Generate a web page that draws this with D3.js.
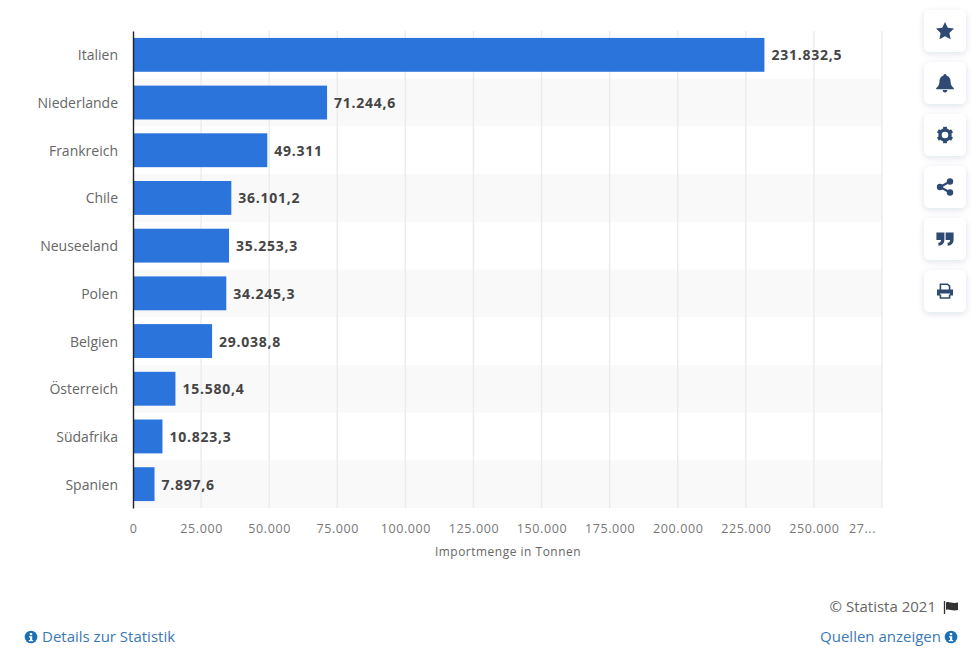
<!DOCTYPE html>
<html>
<head>
<meta charset="utf-8">
<script src="https://cdn.jsdelivr.net/npm/d3@7"></script>
<style>
  html, body { margin: 0; background: #fff; }
  text { font-family: "Open Sans", sans-serif; }
</style>
</head>
<body>
<div id="chart"></div>
<script>
const countries = ['Italien', 'Niederlande', 'Frankreich', 'Chile', 'Neuseeland', 'Polen', 'Belgien', 'Österreich', 'Südafrika', 'Spanien'];
const imports = [231832.5, 71244.6, 49311, 36101.2, 35253.3, 34245.3, 29038.8, 15580.4, 10823.3, 7897.6];
const xTicks = [0, 25000, 50000, 75000, 100000, 125000, 150000, 175000, 200000, 225000, 250000, 275000];

const width = 978;
const height = 654;
const margin = { top: 31, right: 96, bottom: 146, left: 133 };

const de = d3.formatLocale({ decimal: ',', thousands: '.', grouping: [3], currency: ['', ' €'] });
const fmtValue = de.format(',.1~f');
const fmtTick = de.format(',');

const svg = d3.select('#chart')
  .append('svg')
  .attr('width', width)
  .attr('height', height)
  .style('display', 'block');

const defs = svg.append('defs');
const shadow = defs.append('filter').attr('id', 'cardShadow')
  .attr('x', '-30%').attr('y', '-30%').attr('width', '160%').attr('height', '170%');
shadow.append('feDropShadow')
  .attr('dx', 0).attr('dy', 2).attr('stdDeviation', 3)
  .attr('flood-color', '#1f3a5f').attr('flood-opacity', 0.13);

const x = d3.scaleLinear()
  .domain([0, 275000])
  .range([margin.left, width - margin.right]);
const y = d3.scaleBand()
  .domain(countries)
  .range([margin.top, height - margin.bottom])
  .paddingInner(0.29)
  .paddingOuter(0.145);
const rows = d3.scaleBand()
  .domain(countries)
  .range([margin.top, height - margin.bottom]);

// alternating row stripes
svg.append('g')
  .selectAll('rect')
  .data(countries.filter((d, i) => i % 2 === 1))
  .join('rect')
  .attr('x', margin.left)
  .attr('y', d => rows(d))
  .attr('width', x(275000) - margin.left)
  .attr('height', rows.bandwidth())
  .attr('fill', '#f9f9fa');

// grid
svg.append('g')
  .selectAll('line')
  .data(xTicks.slice(1))
  .join('line')
  .attr('x1', d => x(d))
  .attr('x2', d => x(d))
  .attr('y1', margin.top)
  .attr('y2', height - margin.bottom)
  .attr('stroke', '#ebebee')
  .attr('stroke-width', 1.4);

// bars
svg.append('g')
  .selectAll('rect')
  .data(countries)
  .join('rect')
  .attr('x', x(0))
  .attr('y', d => y(d))
  .attr('width', (d, i) => x(imports[i]) - x(0))
  .attr('height', y.bandwidth())
  .attr('fill', '#2a74dc');

// value labels
svg.append('g')
  .selectAll('text')
  .data(countries)
  .join('text')
  .attr('x', (d, i) => x(imports[i]) + 7)
  .attr('y', d => y(d) + y.bandwidth() / 2 + 0.5)
  .attr('dy', '0.36em')
  .attr('font-size', 14)
  .attr('font-weight', 700)
  .attr('letter-spacing', 0.75)
  .attr('fill', '#454545')
  .text((d, i) => fmtValue(imports[i]));

// category axis
const yAxis = svg.append('g')
  .attr('transform', `translate(${margin.left},0)`)
  .call(d3.axisLeft(y).tickSize(0).tickPadding(15));
yAxis.select('.domain').attr('stroke', '#222').attr('stroke-width', 1.4);
yAxis.selectAll('text')
  .attr('y', 1)
  .attr('font-size', 14)
  .attr('font-family', '"Open Sans", sans-serif')
  .attr('fill', '#666');

// value axis
const xAxis = svg.append('g')
  .attr('transform', `translate(0,${height - margin.bottom})`)
  .call(d3.axisBottom(x)
    .tickValues(xTicks)
    .tickSize(0)
    .tickPadding(16)
    .tickFormat(d => d === 275000 ? '27...' : fmtTick(d)));
xAxis.select('.domain').remove();
xAxis.selectAll('text')
  .attr('font-size', 12.5)
  .attr('font-family', '"Open Sans", sans-serif')
  .attr('letter-spacing', 0.6)
  .attr('fill', '#777');
xAxis.selectAll('.tick').filter(d => d === 275000).select('text')
  .attr('dx', -20);

svg.append('text')
  .attr('x', 508)
  .attr('y', 556)
  .attr('text-anchor', 'middle')
  .attr('font-size', 11.9)
  .attr('letter-spacing', 0.55)
  .attr('fill', '#666')
  .text('Importmenge in Tonnen');

// footer
svg.append('text')
  .attr('x', 936)
  .attr('y', 612)
  .attr('text-anchor', 'end')
  .attr('font-size', 15)
  .attr('fill', '#666')
  .text('© Statista 2021');

const flag = svg.append('g').attr('transform', 'translate(944,601)');
flag.append('path')
  .attr('d', 'M0.5 0V13')
  .attr('stroke', '#333').attr('stroke-width', 1.3);
flag.append('path')
  .attr('d', 'M2 1.5C5 0 8 3 14 1.5V9C8 10.5 5 7.5 2 9Z')
  .attr('fill', '#333');

const linkColor = '#3b79b4';
svg.append('text')
  .attr('x', 42)
  .attr('y', 642)
  .attr('font-size', 15)
  .attr('fill', linkColor)
  .text('Details zur Statistik');
svg.append('text')
  .attr('x', 941)
  .attr('y', 642)
  .attr('text-anchor', 'end')
  .attr('font-size', 15)
  .attr('fill', linkColor)
  .text('Quellen anzeigen');

function infoIcon(cx, cy) {
  const g = svg.append('g').attr('transform', `translate(${cx},${cy})`);
  g.append('circle').attr('r', 6.3).attr('fill', '#1a6fb5');
  g.append('rect').attr('x', -1.2).attr('y', -4).attr('width', 2.4).attr('height', 2.2).attr('fill', '#fff');
  g.append('path').attr('d', 'M-2 -0.8H1.2V3H2.2V4.2H-2.2V3H-1V0.4H-2Z').attr('fill', '#fff');
}
infoIcon(31, 637);
infoIcon(951, 637);

// side buttons
const iconColor = '#2f4a72';
const buttons = [
  // star
  g => g.append('path').attr('d', 'M0 -9L2.8 -3.2L9 -2.4L4.4 2L5.6 8.3L0 5.3L-5.6 8.3L-4.4 2L-9 -2.4L-2.8 -3.2Z').attr('fill', iconColor),
  // bell
  g => {
    g.append('path').attr('d', 'M0 -9C1.1 -9 1.5 -8.2 1.5 -7.4C4.6 -6.6 5.6 -4 5.6 -1C5.6 2.2 7.2 3.8 8.8 5V6.2H-8.8V5C-7.2 3.8 -5.6 2.2 -5.6 -1C-5.6 -4 -4.6 -6.6 -1.5 -7.4C-1.5 -8.2 -1.1 -9 0 -9Z').attr('fill', iconColor);
    g.append('path').attr('d', 'M-2.4 7.1H2.4C2.4 8.6 1.3 9.4 0 9.4C-1.3 9.4 -2.4 8.6 -2.4 7.1Z').attr('fill', iconColor);
  },
  // cog
  g => {
    g.append('circle').attr('r', 5).attr('fill', 'none').attr('stroke', iconColor).attr('stroke-width', 3.4);
    d3.range(6).forEach(i => g.append('rect')
      .attr('x', -1.9).attr('y', -8.2).attr('width', 3.8).attr('height', 3.4)
      .attr('fill', iconColor)
      .attr('transform', `rotate(${i * 60})`));
  },
  // share
  g => {
    g.append('path').attr('d', 'M5 -5.5L-5 0L5 5.5').attr('fill', 'none').attr('stroke', iconColor).attr('stroke-width', 2);
    [[5, -5.5], [-5, 0], [5, 5.5]].forEach(p => g.append('circle').attr('cx', p[0]).attr('cy', p[1]).attr('r', 3.2).attr('fill', iconColor));
  },
  // quote
  g => {
    [-4.6, 4.6].forEach(dx => g.append('path')
      .attr('transform', `translate(${dx},0)`)
      .attr('d', 'M-4 -6.5H4V0.5C4 4 2 6.5 -2 6.8V3.8C-0.3 3.6 0.6 2.6 0.6 1H-4Z')
      .attr('fill', iconColor));
  },
  // print
  g => {
    g.append('path').attr('d', 'M-4.6 -1V-6.8H2.5L4.6 -4.8V-1').attr('fill', 'none').attr('stroke', iconColor).attr('stroke-width', 1.6);
    g.append('path').attr('d', 'M-8 -1.5H8V4.6H5V2.6H-5V4.6H-8Z').attr('fill', iconColor);
    g.append('path').attr('d', 'M-4.6 3.4V7H4.6V3.4').attr('fill', 'none').attr('stroke', iconColor).attr('stroke-width', 1.6);
  }
];

const card = svg.append('g')
  .selectAll('g')
  .data(buttons)
  .join('g')
  .attr('transform', (d, i) => `translate(945,${31 + i * 52})`);
card.append('rect')
  .attr('x', -21).attr('y', -21)
  .attr('width', 42).attr('height', 42)
  .attr('rx', 6)
  .attr('fill', '#fff')
  .attr('filter', 'url(#cardShadow)');
card.each(function (draw) { draw(d3.select(this)); });
</script>
</body>
</html>
